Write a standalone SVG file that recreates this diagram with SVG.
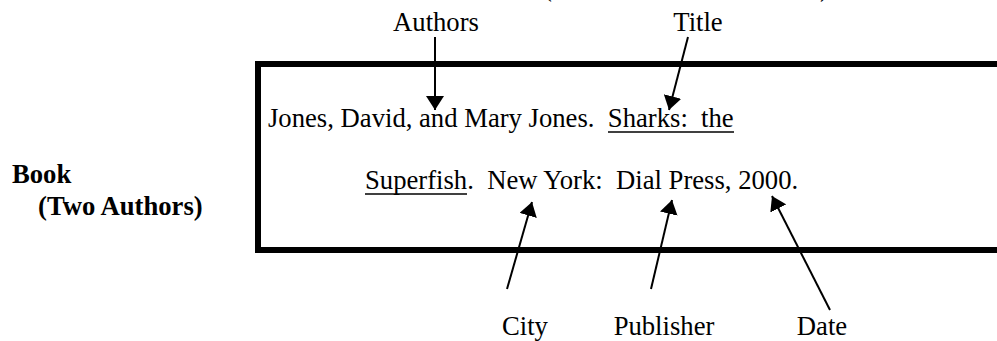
<svg xmlns="http://www.w3.org/2000/svg" width="997" height="341" viewBox="0 0 997 341">
<style>
text{font-family:"Liberation Serif","Times New Roman",serif;font-size:26.67px;fill:#000;white-space:pre}
.b{font-weight:bold}
.c{stroke:#000;stroke-width:2;fill:none}
.u{stroke:#000;stroke-width:1.5}
</style>
<defs>
<marker id="a" viewBox="0 0 14 18" refX="14" refY="9" markerWidth="14" markerHeight="18" markerUnits="userSpaceOnUse" orient="auto">
<path d="M0,0 L14,9 L0,18 Z" fill="#000"/>
</marker>
</defs>
<text x="543" y="-4">(</text>
<text x="820" y="-4">)</text>
<g id="label-book">
<text class="b" x="12" y="183">Book</text>
<text class="b" x="38" y="215">(Two Authors)</text>
</g>
<g id="citation-box">
<path d="M1005,64 H258 V250 H1005" fill="none" stroke="#000" stroke-width="6"/>
<text x="268" y="127">Jones, David, and Mary Jones.  Sharks:  the</text>
<line class="u" x1="608" y1="132" x2="734" y2="132"/>
<text x="365" y="189">Superfish.  New York:  Dial Press, 2000.</text>
<line class="u" x1="365" y1="194" x2="467" y2="194"/>
</g>
<g id="authors"><text x="436" y="31" text-anchor="middle">Authors</text></g>
<g id="title"><text x="698" y="31" text-anchor="middle">Title</text></g>
<g id="city"><text x="525" y="335" text-anchor="middle">City</text></g>
<g id="publisher"><text x="664" y="335" text-anchor="middle">Publisher</text></g>
<g id="date"><text x="822" y="335" text-anchor="middle">Date</text></g>
<g id="connectors">
<line class="c" x1="435" y1="37" x2="435" y2="110" marker-end="url(#a)"/>
<line class="c" x1="688" y1="37" x2="669" y2="110" marker-end="url(#a)"/>
<line class="c" x1="507" y1="289" x2="532" y2="202" marker-end="url(#a)"/>
<line class="c" x1="651" y1="289" x2="672" y2="200" marker-end="url(#a)"/>
<line class="c" x1="830" y1="310" x2="772" y2="196" marker-end="url(#a)"/>
</g>
</svg>
